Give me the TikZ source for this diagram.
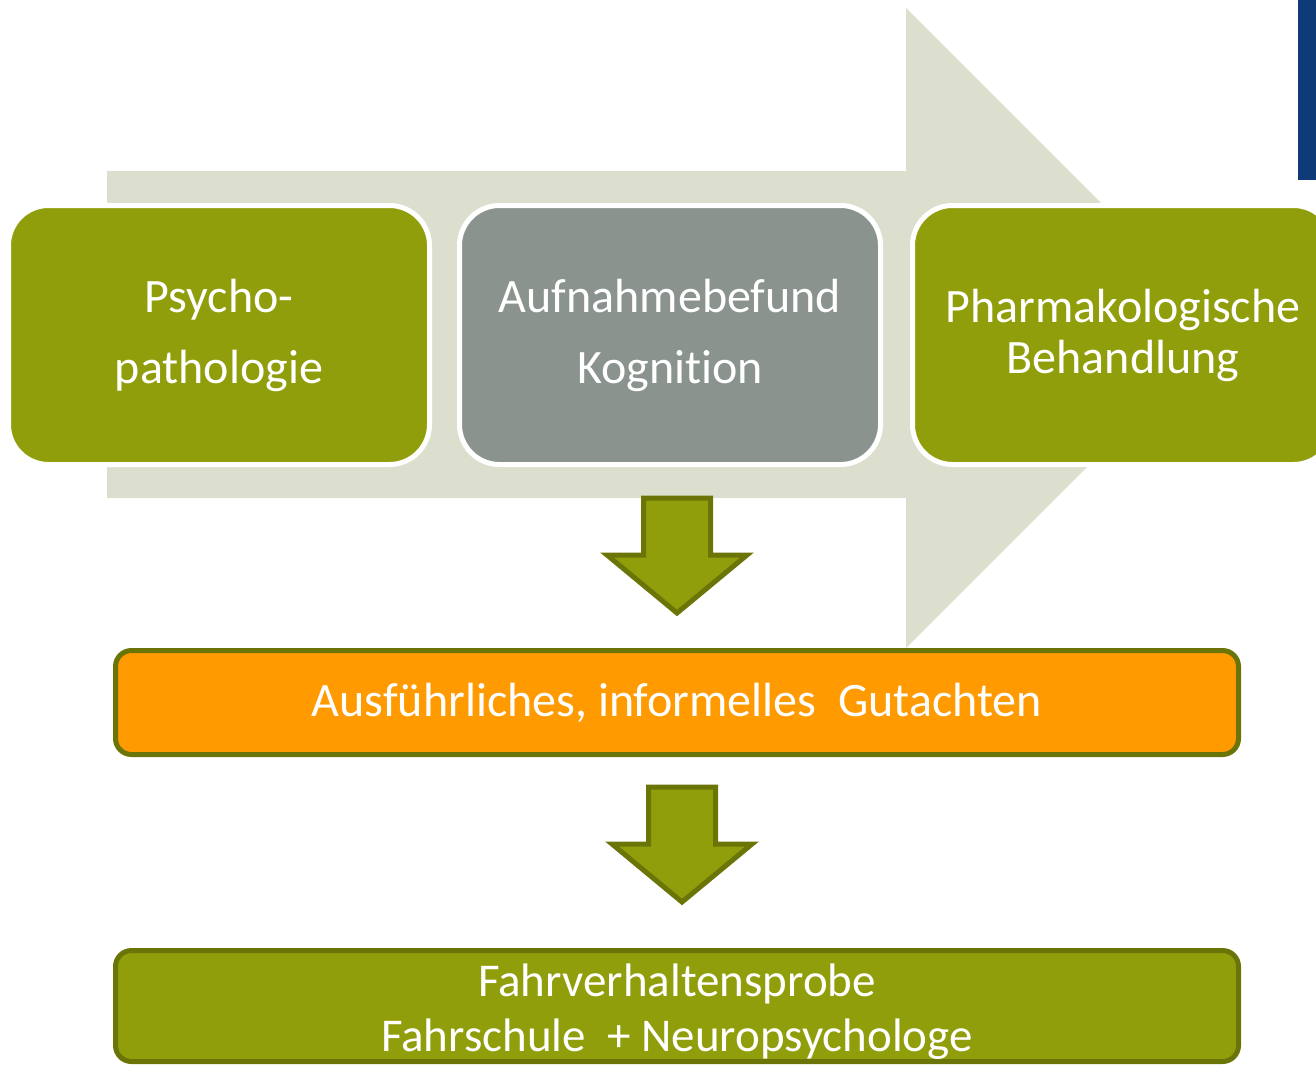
\documentclass[tikz,border=0pt]{standalone}
\usepackage{fontspec}
\setmainfont[Ligatures={NoCommon}]{Carlito}
\usetikzlibrary{calc}

\definecolor{leafgreen}{HTML}{919E0B}
\definecolor{leafdark}{HTML}{6B7407}
\definecolor{stonegray}{HTML}{8A938E}
\definecolor{palebg}{HTML}{DCDFCE}
\definecolor{amber}{HTML}{FF9A00}
\definecolor{navyband}{HTML}{0F3A78}

\tikzset{
  stage/.style={draw=white, line width=5pt, rounded corners=40pt, text=white,
    align=center, minimum width=421pt, minimum height=259pt, inner sep=0pt},
  result/.style={draw=leafdark, line width=5pt, rounded corners=16pt, text=white,
    align=center, minimum width=1123pt, inner sep=0pt},
  arrowbody/.style={fill=leafgreen, draw=leafdark, line width=5pt, line join=miter},
  blockdown/.pic={
    \path[arrowbody] (-33.5,0) -- (33.5,0) -- (33.5,57) -- (70,57) -- (0,115)
      -- (-70,57) -- (-33.5,57) -- cycle;
  }
}

\begin{document}
\begin{tikzpicture}[x=1pt, y=-1pt]
  \path[use as bounding box] (0,0) rectangle (1316,1065);
  \clip (0,0) rectangle (1316,1065);

  % wide pale process arrow behind the three stages
  \fill[palebg] (107,171) -- (906,171) -- (906,8) -- (1226,328) -- (906,648)
    -- (906,498) -- (107,498) -- cycle;

  % dark band at the top right edge
  \fill[navyband] (1298,0) rectangle (1316,180);

  % the three stages
  \node[stage, fill=leafgreen, font=\fontsize{48}{71}\selectfont]
    (psycho) at (219,335) {Psycho-\\pathologie};
  \node[stage, fill=stonegray, font=\fontsize{48}{71}\selectfont]
    (aufnahme) at (670,335) {Aufnahmebefund\\Kognition};
  \node[stage, fill=leafgreen, font=\fontsize{48}{51}\selectfont]
    (pharma) at (1123,335) {Pharmakologische\\Behandlung};

  % report box
  \node[result, fill=amber, minimum height=104pt, font=\fontsize{48}{55}\selectfont]
    (gutachten) at (677,702.5) {Ausführliches, informelles\ \ Gutachten};

  % driving test box
  \node[result, fill=leafgreen, minimum height=111pt] (probe) at (677,1006) {};
  \node[text=white, align=center, inner sep=0pt, font=\fontsize{47}{55}\selectfont]
    (probetext) at ($(probe.center)+(0,6)$) {Fahrverhaltensprobe\\Fahrschule\ \ + Neuropsychologe};

  % block arrows between the levels
  \pic at ($(gutachten.north)+(0,-150)$) {blockdown};
  \pic at ($(probe.north -| 682,0)+(0,-161)$) {blockdown};
\end{tikzpicture}
\end{document}
